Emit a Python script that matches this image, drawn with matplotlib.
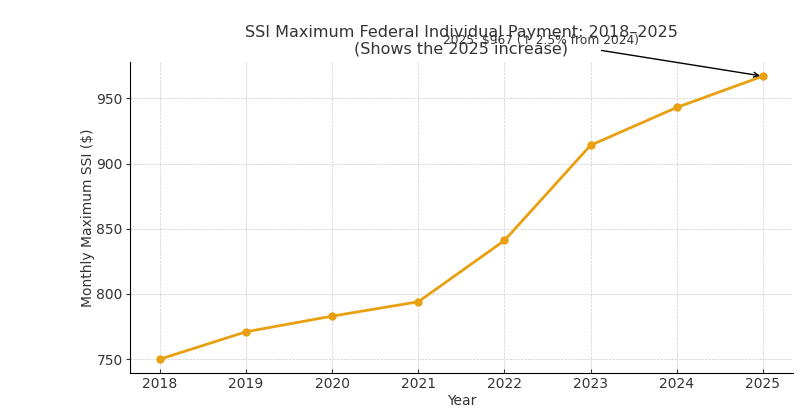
import matplotlib.pyplot as plt

years = [2018, 2019, 2020, 2021, 2022, 2023, 2024, 2025]
payments = [750, 771, 783, 794, 841, 914, 943, 967]
note = "2025: $967 (\u2191 2.5% from 2024)"

fig, ax = plt.subplots(figsize=(8.01, 4.08), dpi=100)
ax.plot(years, payments, color='#E8A010', linewidth=2, marker='o', markersize=5)
ax.set_title('SSI Maximum Federal Individual Payment: 2018\u20132025\n(Shows the 2025 increase)',
             fontsize=11.5, color='#333333', linespacing=1.1)
ax.set_xlabel('Year', fontsize=10, color='#333333', labelpad=2)
ax.set_ylabel('Monthly Maximum SSI ($)', fontsize=10, color='#333333', labelpad=1)
ax.set_xticks(years)
ax.grid(True, linestyle='--', linewidth=0.5, color='#cccccc')
ax.spines['top'].set_visible(False)
ax.spines['right'].set_visible(False)
ax.tick_params(axis='x', direction='in', colors='#333333', labelsize=10, length=3, pad=3)
ax.tick_params(axis='y', colors='#333333', labelsize=10, length=3, pad=2)

ax.annotate(note, xy=(years[-1], payments[-1]), xytext=(-160, 23),
            textcoords='offset points', ha='center', fontsize=8.8, color='#333333',
            arrowprops=dict(arrowstyle='->', color='black', linewidth=1))

fig.subplots_adjust(left=0.162, right=0.99, top=0.848, bottom=0.085)
fig.savefig('out.png', dpi=100)
